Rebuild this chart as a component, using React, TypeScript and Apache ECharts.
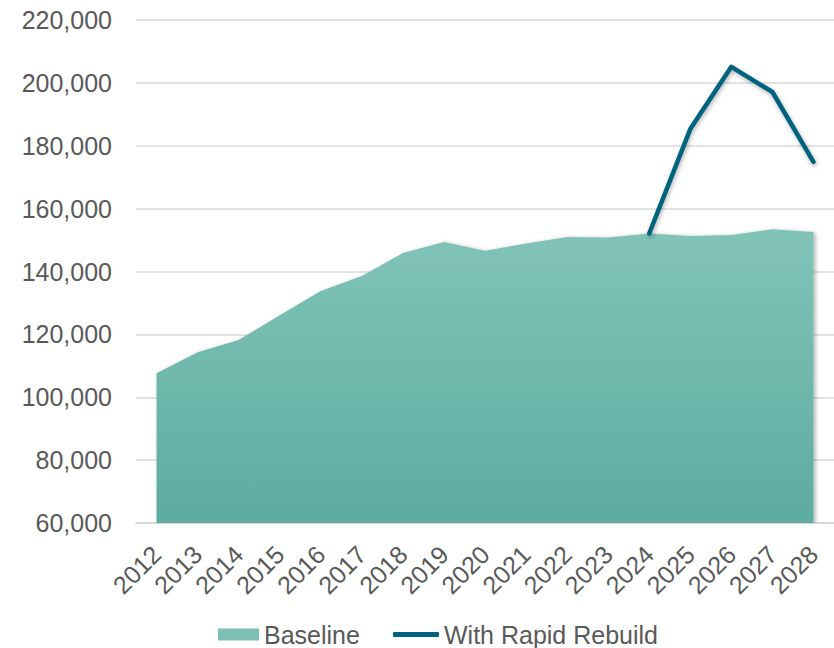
import React, { useEffect, useRef } from "react";
import * as echarts from "echarts";

const years = ["2012","2013","2014","2015","2016","2017","2018","2019","2020","2021","2022","2023","2024","2025","2026","2027","2028"];
const baseline = [107600, 114300, 118200, 126100, 133800, 138600, 145900, 149400, 146600, 148900, 151000, 150800, 152100, 151300, 151600, 153400, 152600];
const rapidRebuild = [null, null, null, null, null, null, null, null, null, null, null, null, 152100, 185300, 205100, 197100, 174900];
const yMin = 60000;
const yMax = 220000;
const yStep = 20000;

const FONT = "'Liberation Sans', Arial, sans-serif";
const TEXT = "#595959";

export default function App() {
  const ref = useRef<HTMLDivElement>(null);
  useEffect(() => {
    if (!ref.current) return;
    const chart = echarts.init(ref.current, null, { renderer: "svg" });
    chart.setOption({
      animation: false,
      textStyle: { fontFamily: FONT },
      grid: { left: 136, top: 20, width: 703, height: 503, containLabel: false },
      legend: [
        {
          left: 218,
          top: 622,
          padding: 0,
          itemWidth: 41,
          itemHeight: 12,
          icon: "rect",
          data: ["Baseline"],
          textStyle: { fontSize: 25, color: TEXT, fontFamily: FONT },
        },
        {
          left: 393,
          top: 622,
          padding: 0,
          itemWidth: 46,
          itemHeight: 5,
          icon: "roundRect",
          data: ["With Rapid Rebuild"],
          textStyle: { fontSize: 25, color: TEXT, fontFamily: FONT },
        },
      ],
      xAxis: {
        type: "category",
        data: years,
        boundaryGap: true,
        axisLine: { lineStyle: { color: "#d9d9d9", width: 2 } },
        axisTick: { show: false },
        axisLabel: { rotate: 45, interval: 0, fontSize: 25, color: TEXT, fontFamily: FONT, margin: 27 },
      },
      yAxis: {
        type: "value",
        min: yMin,
        max: yMax,
        interval: yStep,
        axisLine: { show: false },
        axisTick: { show: false },
        splitLine: { lineStyle: { color: "#d9d9d9", width: 1.5 } },
        axisLabel: {
          fontSize: 25,
          color: TEXT,
          fontFamily: FONT,
          margin: 24,
          formatter: (v: number) => v.toLocaleString("en-US"),
        },
      },
      series: [
        {
          name: "Baseline",
          type: "line",
          data: baseline,
          showSymbol: false,
          symbol: "none",
          itemStyle: { color: "#7cbfb4" },
          lineStyle: { width: 0 },
          areaStyle: {
            origin: "start",
            opacity: 1,
            color: new echarts.graphic.LinearGradient(0, 0, 0, 1, [
              { offset: 0, color: "#82c3b8" },
              { offset: 1, color: "#5daca0" },
            ]),
            shadowColor: "rgba(0,0,0,0.3)",
            shadowBlur: 4,
            shadowOffsetX: 2,
            shadowOffsetY: 1,
          },
          z: 1,
        },
        {
          name: "With Rapid Rebuild",
          type: "line",
          data: rapidRebuild,
          showSymbol: false,
          symbol: "none",
          connectNulls: false,
          itemStyle: { color: "#03637e" },
          lineStyle: {
            color: "#03637e",
            width: 4.5,
            cap: "round",
            join: "round",
            shadowColor: "rgba(0,0,0,0.3)",
            shadowBlur: 4,
            shadowOffsetX: 1,
            shadowOffsetY: 2,
          },
          z: 3,
        },
      ],
    });
    return () => chart.dispose();
  }, []);
  return (
    <div
      ref={ref}
      style={{ position: "fixed", left: 0, top: 0, width: 834, height: 648, background: "#fff" }}
    />
  );
}
